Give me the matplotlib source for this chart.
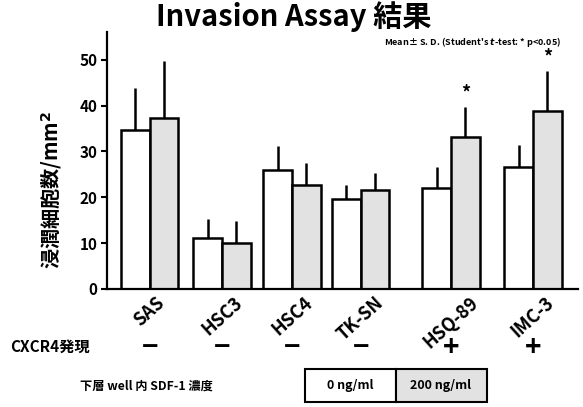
import matplotlib
matplotlib.use('Agg')
import matplotlib.pyplot as plt
import numpy as np
from matplotlib.patches import Rectangle

plt.rcParams['font.family'] = ['Noto Sans CJK JP', 'DejaVu Sans']
plt.rcParams['font.weight'] = 'bold'

# cell lines and invasion counts (cells/mm2), mean and S.D.
groups = ['SAS', 'HSC3', 'HSC4', 'TK-SN', 'HSQ-89', 'IMC-3']
mean_0 = [34.7, 11.1, 26.0, 19.7, 22.0, 26.6]
sd_0 = [9.2, 4.2, 5.2, 3.0, 4.6, 4.8]
mean_200 = [37.3, 10.0, 22.7, 21.6, 33.2, 38.9]
sd_200 = [12.5, 4.8, 4.8, 3.7, 6.5, 8.7]
cxcr4 = ['−', '−', '−', '−', '+', '+']
signif = [False, False, False, False, True, True]
conc_labels = ['0 ng/ml', '200 ng/ml']
yticks = [0, 10, 20, 30, 40, 50]

# group positions (layout only, the last two sit a bit further apart)
group_x = np.array([0, 1.03, 2.03, 3.01, 4.3, 5.47])
bw = 0.41
gray = '#e2e2e2'

fig = plt.figure(figsize=(5.83, 4.07), dpi=100)
ax = fig.add_axes([0.1835, 0.29, 0.8075, 0.631])

zeros = np.zeros(len(groups))
ax.bar(group_x - bw / 2, mean_0, bw, color='white', edgecolor='black', linewidth=1.8,
       yerr=[zeros, sd_0], error_kw=dict(ecolor='black', elinewidth=1.8, capsize=0), zorder=2)
ax.bar(group_x + bw / 2, mean_200, bw, color=gray, edgecolor='black', linewidth=1.8,
       yerr=[zeros, sd_200], error_kw=dict(ecolor='black', elinewidth=1.8, capsize=0), zorder=2)

for x, m, s, sig in zip(group_x, mean_200, sd_200, signif):
    if sig:
        ax.text(x + bw / 2, m + s + 1.0, '*', ha='center', va='bottom', fontsize=13,
                fontweight='bold')

ax.set_xlim(-0.61, 6.11)
ax.set_ylim(0, 56)
ax.set_yticks(yticks)
ax.set_yticklabels([str(t) for t in yticks], fontsize=11, fontweight='bold')
ax.tick_params(axis='y', direction='out', length=4, width=1.5, pad=3)
ax.set_xticks(group_x)
ax.set_xticklabels(groups, rotation=42, ha='center', va='top', fontsize=13,
                   fontweight='bold')
ax.tick_params(axis='x', length=0, pad=3)
for side in ['top', 'right']:
    ax.spines[side].set_visible(False)
for side in ['left', 'bottom']:
    ax.spines[side].set_linewidth(1.6)

fig.text(52 / 583, 1 - 190 / 407, '浸潤細胞数/mm$^2$', rotation=90, ha='center',
         va='center', fontsize=14.5, fontweight='bold')

fig.text(294 / 583, 1 - 17 / 407, 'Invasion Assay 結果', ha='center', va='center',
         fontsize=21, fontweight='bold')
fig.text(561 / 583, 1 - 42 / 407, "Mean± S. D. (Student's $t$-test: * p<0.05)",
         ha='right', va='center', fontsize=6.5, fontweight='bold')

# CXCR4 expression row
fig.text(10 / 583, 1 - 347 / 407, 'CXCR4発現', ha='left', va='center', fontsize=11,
         fontweight='bold')
for x, c in zip(group_x, cxcr4):
    ax.text(x, -0.23, c, transform=ax.get_xaxis_transform(), ha='center', va='center',
            fontsize=20, fontweight='bold')

# SDF-1 concentration legend
fig.text(80 / 583, 1 - 386 / 407, '下層 well 内 SDF-1 濃度', ha='left', va='center',
         fontsize=8.8, fontweight='bold')
box_y = 1 - 402 / 407
box_h = 33 / 407
for i, (lab, fc) in enumerate(zip(conc_labels, ['white', gray])):
    x0 = (305 + i * 91) / 583
    fig.add_artist(Rectangle((x0, box_y), 91 / 583, box_h, transform=fig.transFigure,
                             facecolor=fc, edgecolor='black', linewidth=1.5))
    fig.text(x0 + 45 / 583, box_y + box_h / 2, lab, ha='center', va='center', fontsize=9,
             fontweight='bold')

fig.savefig('out.png', dpi=100)
